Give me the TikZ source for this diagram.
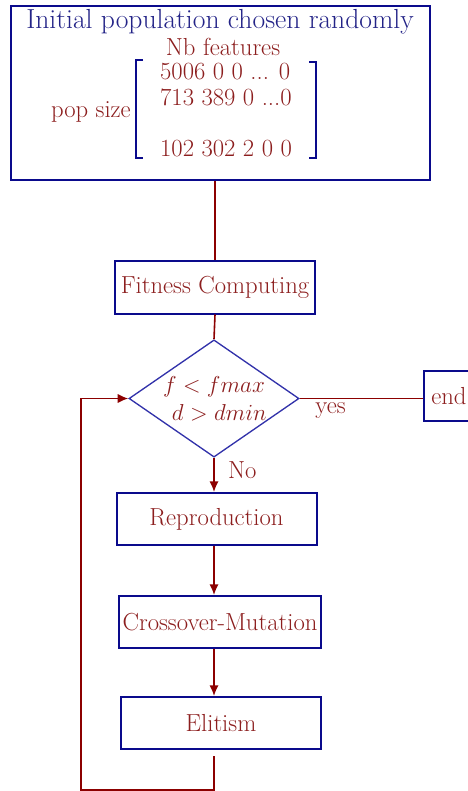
\documentclass[tikz,border=0pt]{standalone}
\usetikzlibrary{shapes.geometric,arrows.meta,calc}

\definecolor{boxblue}{RGB}{10,10,140}
\definecolor{titleblue}{RGB}{35,35,135}
\definecolor{txtred}{RGB}{140,30,30}
\definecolor{linkred}{RGB}{140,0,0}
\definecolor{diablue}{RGB}{50,50,170}

\tikzset{
  stepbox/.style={draw=boxblue, line width=1.5pt, text=txtred, inner sep=0pt, minimum width=150pt, minimum height=39pt},
  link/.style={draw=linkred, line width=1.2pt},
  flow/.style={link, -{Latex[length=8pt,width=7pt]}},
  lbl/.style={text=txtred, inner sep=0pt},
}

\begin{document}
\begin{tikzpicture}[x=0.75pt,y=0.75pt,yscale=-1,xscale=1,font=\fontsize{18.5}{21}\selectfont]
\useasboundingbox (0,0) rectangle (467,791);

%Initial population box
\node[stepbox, minimum width=314pt, minimum height=130.5pt] (init) at (220.5,93) {};
\node[text=titleblue, inner sep=0pt, font=\fontsize{20.7}{24}\selectfont] (title) at (220,22) {Initial population chosen randomly};
\node[lbl] (nb) at (223,47) {Nb features};
\node[lbl, align=left, font=\fontsize{18.5}{19.25}\selectfont] (rows) at (226,110) {5006 0 0 ... 0\\713 389 0 ...0\\ \mbox{}\\102 302 2 0 0};
\node[lbl, anchor=east] (pop) at (131,112) {pop size};
% brackets
\draw[boxblue, line width=1.5pt] (143,60) -- (136,60) -- (136,158) -- (143,158);
\draw[boxblue, line width=1.5pt] (309,62) -- (316,62) -- (316,158) -- (309,158);

%Steps
\node[stepbox] (fit) at (215,287.5) {Fitness Computing};
\node[diamond, draw=diablue, line width=1pt, shape aspect=1.45, minimum width=125pt, minimum height=86pt, inner sep=0pt, text=txtred, align=center, font=\fontsize{16}{21}\selectfont] (test) at (214,398.5) {$f<fmax$\\\hspace*{8pt}$d>dmin$};
\node[stepbox, anchor=west, minimum width=0pt, minimum height=38pt, inner xsep=5.5pt] (end) at (423,396) {end};
\node[stepbox] (repro) at (216.5,519) {Reproduction};
\node[stepbox, minimum width=151.5pt] (cross) at (220,622) {Crossover-Mutation};
\node[stepbox] (elit) at (221,723) {Elitism};

%Connectors
\draw[link] (fit.north |- init.south) -- (fit.north);
\draw[link] (fit.south) -- (test.north);
\draw[link] (test.east) -- (test.east -| end.west) node[lbl, pos=0.25, yshift=-9pt] {yes};
\draw[flow] (test.south) -- (test.south |- repro.north) node[lbl, pos=0.36, right=10pt] {No};
\draw[flow] (test.south |- repro.south) -- (test.south |- cross.north);
\draw[flow] (test.south |- cross.south) -- (test.south |- elit.north);

%Loop back
\coordinate (back) at (81,790);
\coordinate (loopstart) at ($(test.south |- elit.south)+(0,6)$);
\draw[flow] (loopstart) |- (back) |- (test.west);

\end{tikzpicture}
\end{document}
